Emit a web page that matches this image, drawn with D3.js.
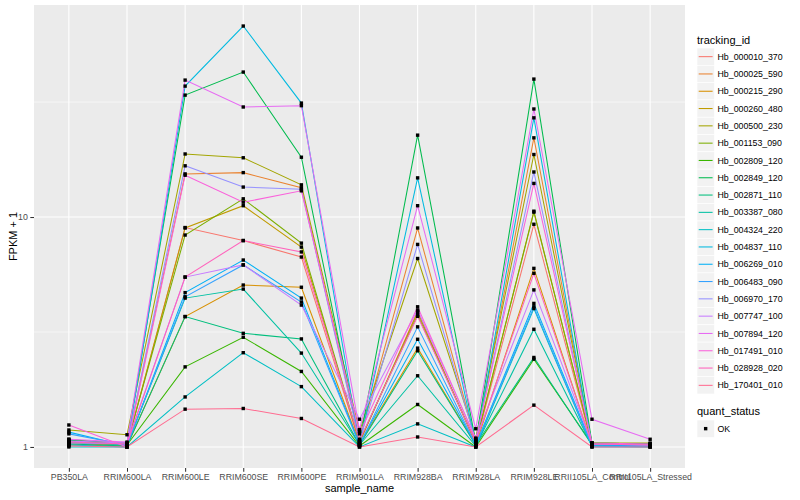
<!DOCTYPE html>
<html>
<head>
<meta charset="utf-8">
<script src="https://cdn.jsdelivr.net/npm/d3@7"></script>
<style>
  body { margin: 0; background: #fff; }
  svg { font-family: "Liberation Sans", Arial, Helvetica, sans-serif; }
</style>
</head>
<body>
<svg id="chart" width="800" height="500"></svg>
<script>
// samples on the x axis
const samples = ["PB350LA", "RRIM600LA", "RRIM600LE", "RRIM600SE", "RRIM600PE", "RRIM901LA",
  "RRIM928BA", "RRIM928LA", "RRIM928LE", "RRII105LA_Control", "RRII105LA_Stressed"];

// genes (legend order)
const trackingIds = ["Hb_000010_370", "Hb_000025_590", "Hb_000215_290", "Hb_000260_480", "Hb_000500_230",
  "Hb_001153_090", "Hb_002809_120", "Hb_002849_120", "Hb_002871_110", "Hb_003387_080",
  "Hb_004324_220", "Hb_004837_110", "Hb_006269_010", "Hb_006483_090", "Hb_006970_170",
  "Hb_007747_100", "Hb_007894_120", "Hb_017491_010", "Hb_028928_020", "Hb_170401_010"];

// FPKM + 1, one row per gene, one column per sample
const fpkm = [
  [1.03, 1.02, 9.0, 7.9, 6.7, 1.04, 3.9, 1.03, 9.3, 1.02, 1.01],
  [1.05, 1.03, 15.4, 15.6, 13.4, 1.08, 8.96, 1.06, 22.1, 1.03, 1.02],
  [1.02, 1.01, 3.69, 5.06, 4.95, 1.03, 2.69, 1.02, 5.98, 1.02, 1.01],
  [1.04, 1.02, 8.96, 11.2, 7.4, 1.05, 3.85, 1.04, 10.6, 1.03, 1.02],
  [1.185, 1.13, 18.8, 18.1, 13.8, 1.17, 6.6, 1.09, 18.7, 1.04, 1.04],
  [1.06, 1.03, 8.35, 12.0, 7.7, 1.06, 3.75, 1.05, 10.5, 1.04, 1.03],
  [1.08, 1.02, 2.23, 3.0, 2.13, 1.01, 1.53, 1.0, 2.41, 1.03, 1.02],
  [1.07, 1.04, 33.9, 42.7, 18.2, 1.05, 22.7, 1.05, 39.8, 1.04, 1.03],
  [1.03, 1.01, 3.69, 3.12, 2.95, 1.02, 2.62, 1.02, 2.45, 1.02, 1.01],
  [1.05, 1.02, 4.44, 4.86, 2.56, 1.02, 2.04, 1.01, 3.25, 1.01, 1.01],
  [1.0, 1.0, 1.65, 2.57, 1.83, 1.0, 1.26, 1.0, 4.0, 1.0, 1.0],
  [1.02, 1.0, 37.1, 67.7, 31.3, 1.02, 14.8, 1.03, 27.0, 1.01, 1.0],
  [1.16, 1.01, 4.69, 6.5, 4.44, 1.03, 2.94, 1.02, 4.21, 1.02, 1.01],
  [1.14, 1.02, 4.5, 6.19, 4.27, 1.02, 3.33, 1.02, 4.07, 1.01, 1.01],
  [1.04, 1.03, 16.7, 13.5, 13.2, 1.06, 7.6, 1.06, 15.7, 1.03, 1.02],
  [1.06, 1.04, 5.48, 6.19, 4.14, 1.32, 3.94, 1.09, 4.82, 1.03, 1.02],
  [1.08, 1.05, 39.4, 30.1, 30.5, 1.19, 11.2, 1.2, 29.5, 1.32, 1.08],
  [1.246, 1.0, 15.2, 11.6, 13.0, 1.14, 4.07, 1.08, 14.0, 1.04, 1.03],
  [1.05, 1.03, 5.48, 7.9, 7.05, 1.07, 3.7, 1.05, 5.69, 1.03, 1.02],
  [1.01, 1.0, 1.46, 1.47, 1.33, 1.0, 1.105, 1.0, 1.52, 1.0, 1.0]
];

const yTicks = [1, 10];
const yTickLabels = ["1", "10"];
const statusLevels = ["OK"];

// ggplot default hue palette for 20 levels
const hueColors = ["#F8766D", "#EA8331", "#D89000", "#C09B00", "#A3A500", "#7CAE00", "#39B600",
  "#00BB4E", "#00BF7D", "#00C1A3", "#00BFC4", "#00BAE0", "#00B0F6", "#35A2FF", "#9590FF",
  "#C77CFF", "#E76BF3", "#FA62DB", "#FF62BC", "#FF6C91"];

const panel = { left: 34, right: 685, top: 5, bottom: 468 };

const svg = d3.select("#chart");

const x = d3.scalePoint()
  .domain(samples)
  .range([panel.left, panel.right])
  .padding(0.6);

// log scale with ggplot's 5% expansion in log space
const allVals = fpkm.flat();
const lmin = Math.log10(d3.min(allVals)), lmax = Math.log10(d3.max(allVals));
const pad = (lmax - lmin) * 0.05;
const y = d3.scaleLog()
  .domain([Math.pow(10, lmin - pad), Math.pow(10, lmax + pad)])
  .range([panel.bottom, panel.top]);

const color = d3.scaleOrdinal().domain(trackingIds).range(hueColors);

// panel background
svg.append("rect")
  .attr("x", panel.left).attr("y", panel.top)
  .attr("width", panel.right - panel.left).attr("height", panel.bottom - panel.top)
  .attr("fill", "#EBEBEB");

// minor gridlines halfway between decades
const minorBreaks = [Math.pow(10, 0.5), Math.pow(10, 1.5)].filter(v => v > y.domain()[0] && v < y.domain()[1]);
svg.append("g").selectAll("line")
  .data(minorBreaks).enter().append("line")
  .attr("x1", panel.left).attr("x2", panel.right)
  .attr("y1", d => y(d)).attr("y2", d => y(d))
  .attr("stroke", "#fff").attr("stroke-width", 0.55);

// major gridlines
svg.append("g").selectAll("line")
  .data(yTicks).enter().append("line")
  .attr("x1", panel.left).attr("x2", panel.right)
  .attr("y1", d => y(d)).attr("y2", d => y(d))
  .attr("stroke", "#fff").attr("stroke-width", 1.1);

svg.append("g").selectAll("line")
  .data(samples).enter().append("line")
  .attr("x1", d => x(d)).attr("x2", d => x(d))
  .attr("y1", panel.top).attr("y2", panel.bottom)
  .attr("stroke", "#fff").attr("stroke-width", 1.1);

// lines
const line = d3.line()
  .x((d, i) => x(samples[i]))
  .y(d => y(d));

svg.append("g").selectAll("path")
  .data(fpkm).enter().append("path")
  .attr("d", d => line(d))
  .attr("fill", "none")
  .attr("stroke", (d, i) => color(trackingIds[i]))
  .attr("stroke-width", 1.05);

// points
const pts = [];
fpkm.forEach((row, g) => row.forEach((v, s) => pts.push({ s: samples[s], v: v })));
svg.append("g").selectAll("rect")
  .data(pts).enter().append("rect")
  .attr("x", d => x(d.s) - 1.7)
  .attr("y", d => y(d.v) - 1.7)
  .attr("width", 3.4).attr("height", 3.4)
  .attr("fill", "#000");

// axes
const xAxis = d3.axisBottom(x).tickSize(3.7).tickPadding(2.5);
const gx = svg.append("g")
  .attr("transform", "translate(0," + panel.bottom + ")")
  .call(xAxis);
gx.select(".domain").remove();
gx.selectAll(".tick line").attr("stroke", "#333333").attr("stroke-width", 1.05);
gx.selectAll(".tick text").attr("fill", "#4D4D4D").attr("font-size", "8.8px");

const yAxis = d3.axisLeft(y).tickValues(yTicks)
  .tickFormat((d, i) => yTickLabels[i]).tickSize(3.7).tickPadding(2.5);
const gy = svg.append("g")
  .attr("transform", "translate(" + panel.left + ",0)")
  .call(yAxis);
gy.select(".domain").remove();
gy.selectAll(".tick line").attr("stroke", "#333333").attr("stroke-width", 1.05);
gy.selectAll(".tick text").attr("fill", "#4D4D4D").attr("font-size", "8.8px");
svg.selectAll(".tick text").attr("font-family", null);
svg.selectAll("g").filter(function() { return this.getAttribute("font-family"); })
  .attr("font-family", null).attr("font-size", null);

// axis titles
svg.append("text")
  .attr("x", (panel.left + panel.right) / 2).attr("y", 492)
  .attr("text-anchor", "middle").attr("font-size", "11px").attr("fill", "#000")
  .text("sample_name");

svg.append("text")
  .attr("transform", "translate(17," + ((panel.top + panel.bottom) / 2) + ") rotate(-90)")
  .attr("text-anchor", "middle").attr("font-size", "11px").attr("fill", "#000")
  .text("FPKM + 1");

// legend: tracking_id
const lg = svg.append("g").attr("transform", "translate(697,0)");
lg.append("text").attr("x", 0).attr("y", 44).attr("font-size", "11px").text("tracking_id");

const keyH = 17.3, key0 = 48;
const keys = lg.selectAll(".key").data(trackingIds).enter().append("g")
  .attr("class", "key")
  .attr("transform", (d, i) => "translate(0," + (key0 + i * keyH) + ")");
keys.append("rect")
  .attr("width", 17.3).attr("height", keyH)
  .attr("fill", "#F2F2F2").attr("stroke", "#fff").attr("stroke-width", 0.6);
keys.append("line")
  .attr("x1", 1.7).attr("x2", 15.6)
  .attr("y1", keyH / 2).attr("y2", keyH / 2)
  .attr("stroke", d => color(d)).attr("stroke-width", 1.05);
keys.append("text")
  .attr("x", 20.5).attr("y", keyH / 2 + 3.1)
  .attr("font-size", "8.8px").text(d => d);

// legend: quant_status
const lq = svg.append("g").attr("transform", "translate(697,0)");
lq.append("text").attr("x", 0).attr("y", 415).attr("font-size", "11px").text("quant_status");
const qk = lq.selectAll(".qkey").data(statusLevels).enter().append("g")
  .attr("class", "qkey")
  .attr("transform", (d, i) => "translate(0," + (420 + i * keyH) + ")");
qk.append("rect")
  .attr("width", 17.3).attr("height", keyH)
  .attr("fill", "#F2F2F2").attr("stroke", "#fff").attr("stroke-width", 0.6);
qk.append("rect")
  .attr("x", 17.3 / 2 - 1.7).attr("y", keyH / 2 - 1.7)
  .attr("width", 3.4).attr("height", 3.4).attr("fill", "#000");
qk.append("text")
  .attr("x", 20.5).attr("y", keyH / 2 + 3.1)
  .attr("font-size", "8.8px").text(d => d);
</script>
</body>
</html>
